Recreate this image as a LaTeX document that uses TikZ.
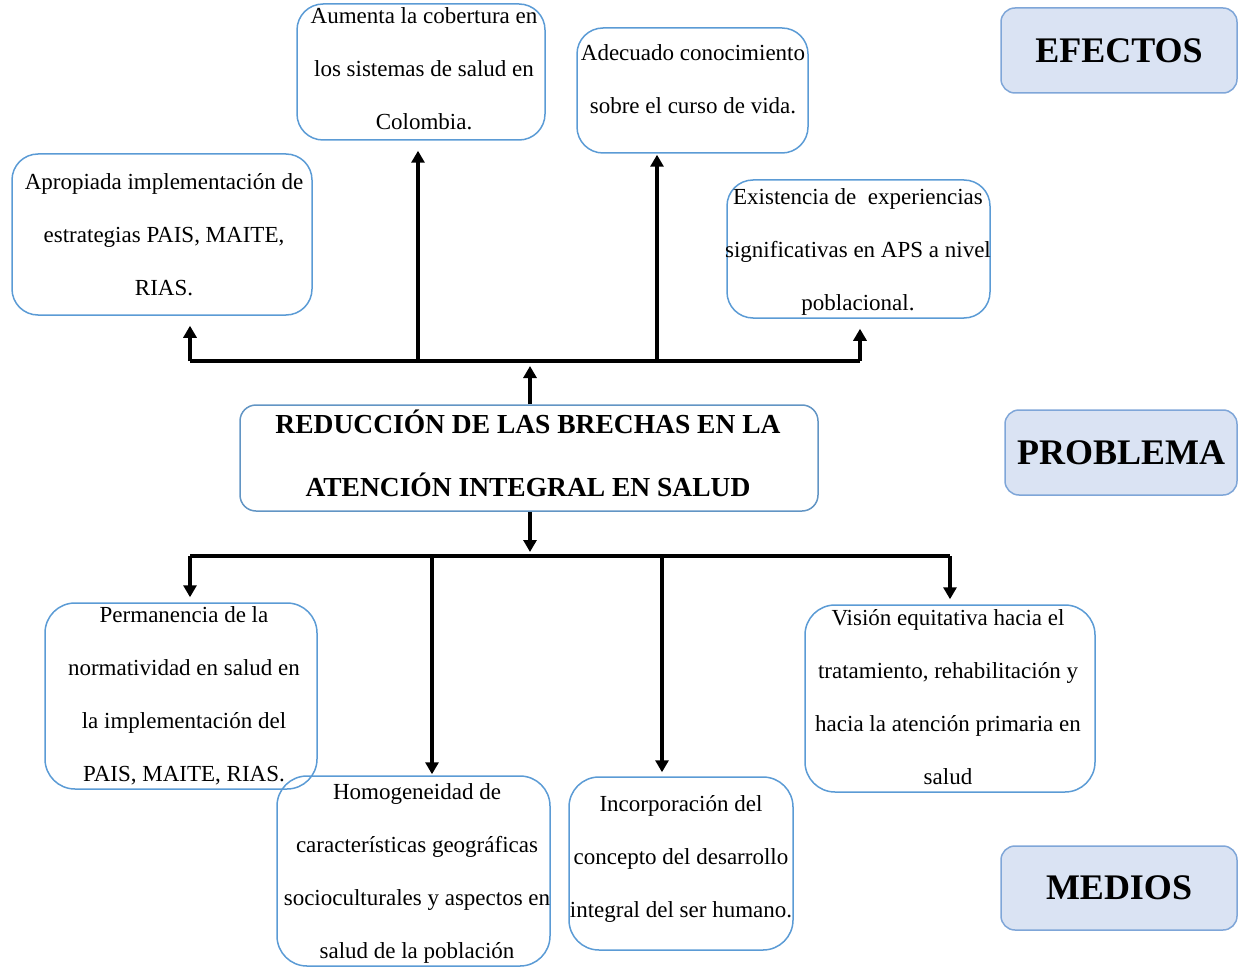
\documentclass[tikz,border=0pt]{standalone}
\usepackage{fontspec}
\setmainfont{Liberation Serif}
\usetikzlibrary{arrows.meta}
\definecolor{bbl}{HTML}{5B9BD5}
\definecolor{lfill}{HTML}{DAE3F3}
\definecolor{lborder}{HTML}{7FA6D8}
\begin{document}
\begin{tikzpicture}[x=1pt,y=-1pt,
  box/.style={draw=bbl, line width=1.5pt, rounded corners=26pt, inner sep=0pt},
  tbox/.style={draw=bbl!80!gray, line width=1.5pt, rounded corners=16pt, inner sep=0pt},
  lab/.style={draw=lborder, fill=lfill, line width=1.5pt, rounded corners=14pt, inner sep=0pt,
     font=\fontsize{36}{40}\selectfont\bfseries},
  txt/.style={align=center, inner sep=0pt, anchor=base, font=\fontsize{23}{53}\selectfont},
  ttl/.style={align=center, inner sep=0pt, anchor=base, font=\fontsize{27.5}{63.5}\selectfont\bfseries},
  ln/.style={line width=3.2pt},
  arr/.style={line width=3.2pt, -{Triangle[width=13pt,length=12pt]}}]
\useasboundingbox (0,0) rectangle (1238,968);

% effect boxes (text nodes anchored at the baseline of their last line)
\node[box, minimum width=300pt, minimum height=161pt] (A) at (162,234.5) {};
\node[txt] (tA) at (164,295) {Apropiada implementación de\\estrategias PAIS, MAITE,\\RIAS.};
\node[box, minimum width=248pt, minimum height=136pt] (B) at (421,72) {};
\node[txt] (tB) at (424,130) {Aumenta la cobertura en\\los sistemas de salud en\\Colombia.};
\node[box, minimum width=231pt, minimum height=125pt] (C) at (692.5,90.5) {};
\node[txt] (tC) at (693,114) {Adecuado conocimiento\\sobre el curso de vida.};
\node[box, minimum width=263pt, minimum height=138pt] (D) at (858.5,249) {};
\node[txt] (tD) at (858,310) {Existencia de\ \ experiencias\\significativas en APS a nivel\\poblacional.};

% labels
\node[lab, minimum width=236pt, minimum height=85pt] (ef) at (1119,50.5) {EFECTOS};
\node[lab, minimum width=232pt, minimum height=85pt] (pr) at (1121,452.5) {PROBLEMA};
\node[lab, minimum width=236pt, minimum height=84pt] (me) at (1119,888) {MEDIOS};

% problem
\node[tbox, minimum width=578pt, minimum height=106pt] (P) at (529,458) {};
\node[ttl] (tP) at (528,496.5) {REDUCCIÓN DE LAS BRECHAS EN LA\\ATENCIÓN INTEGRAL EN SALUD};

% means boxes
\node[box, minimum width=272pt, minimum height=186pt, rounded corners=30pt] (E) at (181,696) {};
\node[txt] (tE) at (184,781) {Permanencia de la\\normatividad en salud en\\la implementación del\\PAIS, MAITE, RIAS.};
\node[box, minimum width=273pt, minimum height=190pt, rounded corners=30pt] (F) at (413.5,871) {};
\node[txt] (tF) at (417,958) {Homogeneidad de\\características geográficas\\socioculturales y aspectos en\\salud de la población};
\node[box, minimum width=224pt, minimum height=173pt, rounded corners=30pt] (G) at (681,863.5) {};
\node[txt] (tG) at (681,917) {Incorporación del\\concepto del desarrollo\\integral del ser humano.};
\node[box, minimum width=290pt, minimum height=187pt, rounded corners=30pt] (H) at (950,698.5) {};
\node[txt] (tH) at (948,784) {Visión equitativa hacia el\\tratamiento, rehabilitación y\\hacia la atención primaria en\\salud};

% top connectors
\coordinate (uL) at (190,361);
\coordinate (uR) at (860,361);
\coordinate (uM) at (530,361);
\draw[ln] (uL) -- (uR);
\draw[arr, shorten >=5pt] (P.north -| uM) -- (uM);
\draw[arr, shorten >=10pt] (uL) -- (uL |- A.south);
\draw[arr, shorten >=10pt] (uL -| 418,0) -- (418,0 |- B.south);
\draw[arr, shorten >=1pt] (uL -| 657,0) -- (657,0 |- C.south);
\draw[arr, shorten >=10pt] (uR) -- (uR |- D.south);

% bottom connectors
\coordinate (dL) at (190,556);
\coordinate (dR) at (950,556);
\coordinate (dM) at (530,556);
\draw[ln] (dL) -- (dR);
\draw[arr, shorten >=4pt] (P.south -| dM) -- (dM);
\draw[arr, shorten >=5pt] (dL) -- (dL |- E.north);
\draw[arr, shorten >=1pt] (dL -| 432,0) -- (432,0 |- F.north);
\draw[arr, shorten >=4pt] (dL -| 662,0) -- (662,0 |- G.north);
\draw[arr, shorten >=5pt] (dR) -- (dR |- H.north);
\end{tikzpicture}
\end{document}
